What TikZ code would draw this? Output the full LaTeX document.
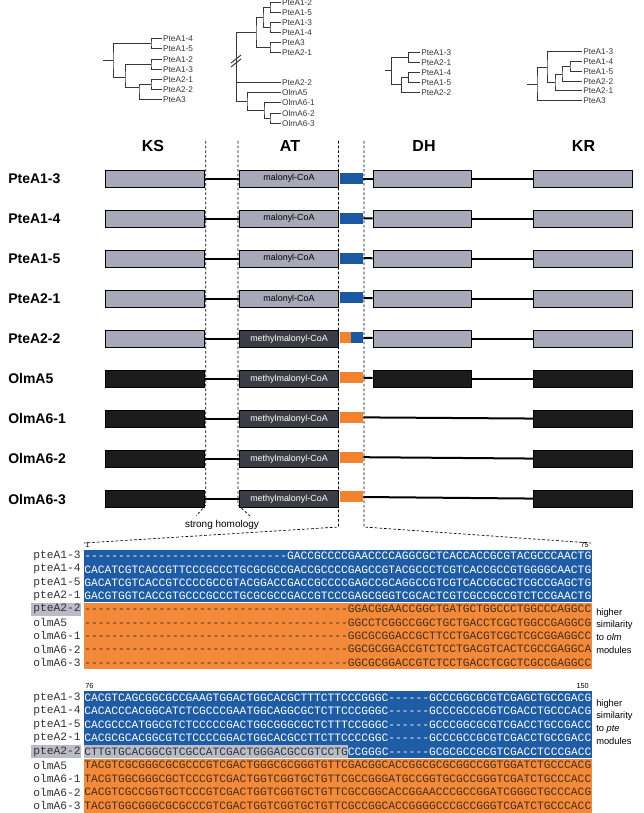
\documentclass[tikz,border=0pt]{standalone}
\usepackage{fontspec}
\setmainfont{Liberation Sans}
\setmonofont{Liberation Mono}
\usetikzlibrary{positioning}
\ExplSyntaxOn
\NewDocumentCommand\gaps{m}{\prg_replicate:nn{#1}{-}}
\ExplSyntaxOff

\definecolor{ptegrey}{RGB}{168,169,184}
\definecolor{olmblack}{RGB}{28,28,28}
\definecolor{atdark}{RGB}{58,62,68}
\definecolor{motblue}{RGB}{26,88,163}
\definecolor{motorange}{RGB}{242,130,44}
\definecolor{alnblue}{RGB}{30,92,165}
\definecolor{alnorange}{RGB}{243,138,58}
\definecolor{hilite}{RGB}{186,187,201}
\definecolor{seqdark}{RGB}{70,45,25}
\definecolor{namegrey}{RGB}{50,50,50}
\definecolor{leafgrey}{RGB}{55,55,55}

\tikzstyle{header} = [inner sep=0pt, font=\fontsize{12}{14}\selectfont\bfseries]
\tikzstyle{rowlabel} = [anchor=west, inner sep=0pt, font=\fontsize{10.5}{12}\selectfont\bfseries]
\tikzstyle{leaf} = [anchor=west, inner sep=1pt, text=leafgrey, font=\fontsize{6.2}{7}\selectfont]
\tikzstyle{branch} = [draw=leafgrey, line width=0.75pt]
\tikzstyle{dombox} = [rectangle, draw=black, line width=0.6pt, minimum width=74pt, minimum height=12.75pt, inner sep=0pt, font=\fontsize{6.7}{8}\selectfont]
\tikzstyle{pte} = [dombox, fill=ptegrey]
\tikzstyle{olm} = [dombox, fill=olmblack]
\tikzstyle{mal} = [dombox, fill=ptegrey]
\tikzstyle{mmal} = [dombox, fill=atdark, text=white]
\tikzstyle{motif} = [rectangle, minimum width=17.25pt, minimum height=8.25pt, inner sep=0pt]
\tikzstyle{link} = [line width=1.5pt]
\tikzstyle{guide} = [line width=0.5pt, dash pattern=on 2pt off 1.5pt]
\tikzstyle{seq} = [anchor=west, inner sep=0pt, font=\ttfamily\fontsize{8.45}{10}\selectfont]
\tikzstyle{seqname} = [seq, text=namegrey]
\tikzstyle{note} = [anchor=west, align=left, inner sep=0pt, font=\fontsize{7}{9.6}\selectfont]
\tikzstyle{posnum} = [inner sep=0pt, font=\fontsize{5.5}{6}\selectfont]

\begin{document}
\begin{tikzpicture}[x=0.75pt,y=-0.75pt]
\useasboundingbox (0,0) rectangle (643,813);

% KS tree
\node (k14) [leaf] at (161.5,39) {PteA1-4};
\node (k15) [leaf] at (161.5,49) {PteA1-5};
\node (k12) [leaf] at (161.5,60) {PteA1-2};
\node (k13) [leaf] at (161.5,70) {PteA1-3};
\node (k21) [leaf] at (161.5,80) {PteA2-1};
\node (k22) [leaf] at (161.5,90) {PteA2-2};
\node (k3) [leaf] at (161.5,100) {PteA3};
\draw [branch] (k14.west) -| (151,44) |- (k15.west);
\draw [branch] (k12.west) -| (151,65) |- (k13.west);
\draw [branch] (k21.west) -| (151,85) |- (k22.west);
\draw [branch] (151,85) -| (139,88) |- (k3.west);
\draw [branch] (151,65) -| (125,78) |- (139,88);
\draw [branch] (151,44) -| (113,61) |- (125,78);
\draw [branch] (113,61) -- (103,61);

% AT tree
\node (a12) [leaf] at (280.5,3) {PteA1-2};
\node (a15) [leaf] at (280.5,13) {PteA1-5};
\node (a13) [leaf] at (280.5,23) {PteA1-3};
\node (a14) [leaf] at (280.5,33) {PteA1-4};
\node (a3) [leaf] at (280.5,43) {PteA3};
\node (a21) [leaf] at (280.5,53) {PteA2-1};
\node (a22) [leaf] at (280.5,83) {PteA2-2};
\node (ao5) [leaf] at (280.5,93) {OlmA5};
\node (ao61) [leaf] at (280.5,103) {OlmA6-1};
\node (ao62) [leaf] at (280.5,114) {OlmA6-2};
\node (ao63) [leaf] at (280.5,124) {OlmA6-3};
\draw [branch] (a12.west) -| (270,8) |- (a15.west);
\draw [branch] (a13.west) -| (270,28) |- (a14.west);
\draw [branch] (270,8) -| (263,18) |- (270,28);
\draw [branch] (a3.west) -| (270,48) |- (a21.west);
\draw [branch] (263,18) -| (256,33) |- (270,48);
\draw [branch] (256,33) -| (236,102) -- (247,102);
\draw [branch] (236,83) -- (a22.west);
\draw [branch] (ao5.west) -| (247,102) |- (264,111);
\draw [branch] (ao61.west) -| (264,111) |- (270,119);
\draw [branch] (ao62.west) -| (270,119) |- (ao63.west);
\draw [branch] (231,63) -- (241,55);
\draw [branch] (231,67) -- (241,59);

% DH tree
\node (d13) [leaf] at (419.7,52.3) {PteA1-3};
\node (d21) [leaf] at (419.7,62.3) {PteA2-1};
\node (d14) [leaf] at (419.7,72.3) {PteA1-4};
\node (d15) [leaf] at (419.7,82.3) {PteA1-5};
\node (d22) [leaf] at (419.7,92.3) {PteA2-2};
\draw [branch] (d13.west) -| (408.3,57.3) |- (d21.west);
\draw [branch] (d14.west) -| (408.3,77.3) |- (d15.west);
\draw [branch] (408.3,77.3) -| (401.7,85) |- (d22.west);
\draw [branch] (408.3,57.3) -| (391.7,71) |- (401.7,85);
\draw [branch] (391.7,71) -- (385,71);

% KR tree
\node (r13) [leaf] at (581.7,52) {PteA1-3};
\node (r14) [leaf] at (581.7,62) {PteA1-4};
\node (r15) [leaf] at (581.7,72) {PteA1-5};
\node (r22) [leaf] at (581.7,82) {PteA2-2};
\node (r21) [leaf] at (581.7,91) {PteA2-1};
\node (r3) [leaf] at (581.7,101) {PteA3};
\draw [branch] (r14.west) -| (570,67) |- (r15.west);
\draw [branch] (570,67) -| (562,74.5) |- (r22.west);
\draw [branch] (562,74.5) -| (555,82.75) |- (r21.west);
\draw [branch] (r13.west) -| (547,67.4) |- (555,82.75);
\draw [branch] (547,67.4) -| (537,84.2) |- (r3.west);
\draw [branch] (537,84.2) -- (527,84.2);

% dashed guides
\draw [guide] (205.8,141) -- (205.8,505) -- (196,516);
\draw [guide] (238,141) -- (238,505) -- (250,516);
\draw [guide] (338.5,141) -- (338.5,527) -- (84,543);
\draw [guide] (364,141) -- (364,527) -- (591,543);
\node (homol) [font=\fontsize{7.5}{9}\selectfont] at (222,525) {strong homology};

% headers
\node (hks) [header] at (153,146) {KS};
\node (hat) [header] at (290,146) {AT};
\node (hdh) [header] at (424,146) {DH};
\node (hkr) [header] at (583.5,146) {KR};

% module rows
\node (ks1) [pte] at (155,178.5) {};
\node (at1) [mal] at (289,178.5) {malonyl-CoA};
\node (mot1) [motif, fill=motblue] at (351.5,178.5) {};
\node (dh1) [pte] at (422.3,178.5) {};
\node (kr1) [pte] at (583.1,178.5) {};
\node (lab1) [rowlabel] at (8,0 |- ks1) {PteA1-3};

\node (ks2) [pte, below=16.7pt of ks1] {};
\node (at2) [mal, below=16.7pt of at1] {malonyl-CoA};
\node (mot2) [motif, fill=motblue, below=21.2pt of mot1] {};
\node (dh2) [pte, below=16.7pt of dh1] {};
\node (kr2) [pte, below=16.7pt of kr1] {};
\node (lab2) [rowlabel] at (8,0 |- ks2) {PteA1-4};

\node (ks3) [pte, below=16.7pt of ks2] {};
\node (at3) [mal, below=16.7pt of at2] {malonyl-CoA};
\node (mot3) [motif, fill=motblue, below=21.2pt of mot2] {};
\node (dh3) [pte, below=16.7pt of dh2] {};
\node (kr3) [pte, below=16.7pt of kr2] {};
\node (lab3) [rowlabel] at (8,0 |- ks3) {PteA1-5};

\node (ks4) [pte, below=16.7pt of ks3] {};
\node (at4) [mal, below=16.7pt of at3] {malonyl-CoA};
\node (mot4) [motif, fill=motblue, below=21.2pt of mot3] {};
\node (dh4) [pte, below=16.7pt of dh3] {};
\node (kr4) [pte, below=16.7pt of kr3] {};
\node (lab4) [rowlabel] at (8,0 |- ks4) {PteA2-1};

\node (ks5) [pte, below=16.7pt of ks4] {};
\node (at5) [mmal, below=16.7pt of at4] {methylmalonyl-CoA};
\node (mot5) [motif, fill=motorange, below=21.2pt of mot4] {};
\node (mot5b) [motif, fill=motblue, minimum width=9pt, anchor=east] at (mot5.east) {};
\node (dh5) [pte, below=16.7pt of dh4] {};
\node (kr5) [pte, below=16.7pt of kr4] {};
\node (lab5) [rowlabel] at (8,0 |- ks5) {PteA2-2};

\node (ks6) [olm, below=16.7pt of ks5] {};
\node (at6) [mmal, below=16.7pt of at5] {methylmalonyl-CoA};
\node (mot6) [motif, fill=motorange, below=21.2pt of mot5] {};
\node (dh6) [olm, below=16.7pt of dh5] {};
\node (kr6) [olm, below=16.7pt of kr5] {};
\node (lab6) [rowlabel] at (8,0 |- ks6) {OlmA5};

\node (ks7) [olm, below=16.7pt of ks6] {};
\node (at7) [mmal, below=16.7pt of at6] {methylmalonyl-CoA};
\node (mot7) [motif, fill=motorange, below=21.2pt of mot6] {};
\node (kr7) [olm, below=16.7pt of kr6] {};
\node (lab7) [rowlabel] at (8,0 |- ks7) {OlmA6-1};

\node (ks8) [olm, below=16.7pt of ks7] {};
\node (at8) [mmal, below=16.7pt of at7] {methylmalonyl-CoA};
\node (mot8) [motif, fill=motorange, below=21.2pt of mot7] {};
\node (kr8) [olm, below=16.7pt of kr7] {};
\node (lab8) [rowlabel] at (8,0 |- ks8) {OlmA6-2};

\node (ks9) [olm, below=16.7pt of ks8] {};
\node (at9) [mmal, below=16.7pt of at8] {methylmalonyl-CoA};
\node (mot9) [motif, fill=motorange, below=21.2pt of mot8] {};
\node (kr9) [olm, below=16.7pt of kr8] {};
\node (lab9) [rowlabel] at (8,0 |- ks9) {OlmA6-3};

\draw [link] (ks1) -- (at1);
\draw [link] (mot1) -- (dh1);
\draw [link] (dh1) -- (kr1);
\draw [link] (ks2) -- (at2);
\draw [link] (mot2) -- (dh2);
\draw [link] (dh2) -- (kr2);
\draw [link] (ks3) -- (at3);
\draw [link] (mot3) -- (dh3);
\draw [link] (dh3) -- (kr3);
\draw [link] (ks4) -- (at4);
\draw [link] (mot4) -- (dh4);
\draw [link] (dh4) -- (kr4);
\draw [link] (ks5) -- (at5);
\draw [link] (mot5b) -- (dh5);
\draw [link] (dh5) -- (kr5);
\draw [link] (ks6) -- (at6);
\draw [link] (mot6) -- (dh6);
\draw [link] (dh6) -- (kr6);
\draw [link] (ks7) -- (at7);
\draw [link] (mot7) -- (kr7);
\draw [link] (ks8) -- (at8);
\draw [link] (mot8) -- (kr8);
\draw [link] (ks9) -- (at9);
\draw [link] (mot9) -- (kr9);

% alignment, positions 1-75
\fill [alnblue] (83.5,549.5) rectangle (591.5,602.3);
\fill [alnorange] (83.5,603) rectangle (591.5,669);
\fill [hilite] (30.5,603) rectangle (80.5,615.5);
\node (p1) [posnum, anchor=south west] at (85,547.5) {1};
\node (p75) [posnum, anchor=south east] at (589,547.5) {75};
\node (na1) [seqname] at (33,556) {pteA1-3};
\node (na2) [seqname] at (33,569.3) {pteA1-4};
\node (na3) [seqname] at (33,582.6) {pteA1-5};
\node (na4) [seqname] at (33,595.9) {pteA2-1};
\node (na5) [seqname] at (33,609.2) {pteA2-2};
\node (na6) [seqname] at (33,622.5) {olmA5};
\node (na7) [seqname] at (33,635.8) {olmA6-1};
\node (na8) [seqname] at (33,649.1) {olmA6-2};
\node (na9) [seqname] at (33,662.4) {olmA6-3};
\node (sa1) [seq, text=white] at (84,556) {\gaps{30}GACCGCCCCGAACCCCAGGCGCTCACCACCGCGTACGCCCAACTG};
\node (sa2) [seq, text=white] at (84,569.3) {CACATCGTCACCGTTCCCGCCCTGCGCGCCGACCGCCCCGAGCCGTACGCCCTCGTCACCGCCGTGGGGCAACTG};
\node (sa3) [seq, text=white] at (84,582.6) {GACATCGTCACCGTCCCCGCCGTACGGACCGACCGCCCCGAGCCGCAGGCCGTCGTCACCGCGCTCGCCGAGCTG};
\node (sa4) [seq, text=white] at (84,595.9) {GACGTGGTCACCGTGCCCGCCCTGCGCGCCGACCGTCCCGAGCGGGTCGCACTCGTCGCCGCCGTCTCCGAACTG};
\node (sa5) [seq, text=seqdark] at (84,609.2) {\gaps{39}GGACGGAACCGGCTGATGCTGGCCCTGGCCCAGGCC};
\node (sa6) [seq, text=seqdark] at (84,622.5) {\gaps{39}GGCCTCGGCCGGCTGCTGACCTCGCTGGCCGAGGCG};
\node (sa7) [seq, text=seqdark] at (84,635.8) {\gaps{39}GGCGCGGACCGCTTCCTGACGTCGCTCGCGGAGGCC};
\node (sa8) [seq, text=seqdark] at (84,649.1) {\gaps{39}GGCGCGGACCGTCTCCTGACGTCACTCGCCGAGGCA};
\node (sa9) [seq, text=seqdark] at (84,662.4) {\gaps{39}GGCGCGGACCGTCTCCTGACCTCGCTCGCCGAGGCC};
\node (simolm) [note] at (596,631) {higher\\similarity\\to \textit{olm}\\modules};

% alignment, positions 76-150
\fill [alnblue] (83.5,690.5) rectangle (591.5,758);
\fill [alnorange] (83.5,758.5) rectangle (591.5,813);
\fill [hilite] (30.5,745) rectangle (80.5,758);
\fill [hilite] (83.5,745) rectangle (347.5,758);
\node (p76) [posnum, anchor=south west] at (85,688.5) {76};
\node (p150) [posnum, anchor=south east] at (589,688.5) {150};
\node (nb1) [seqname] at (33,697.5) {pteA1-3};
\node (nb2) [seqname] at (33,711) {pteA1-4};
\node (nb3) [seqname] at (33,724.5) {pteA1-5};
\node (nb4) [seqname] at (33,738) {pteA2-1};
\node (nb5) [seqname] at (33,751.5) {pteA2-2};
\node (nb6) [seqname] at (33,765) {olmA5};
\node (nb7) [seqname] at (33,778.5) {olmA6-1};
\node (nb8) [seqname] at (33,792) {olmA6-2};
\node (nb9) [seqname] at (33,805.5) {olmA6-3};
\node (sb1) [seq, text=white] at (84,697.5) {CACGTCAGCGGCGCCGAAGTGGACTGGCACGCTTTCTTCCCGGGC\gaps{6}GCCCGGCGCGTCGAGCTGCCGACG};
\node (sb2) [seq, text=white] at (84,711) {CACACCCACGGCATCTCGCCCGAATGGCAGGCGCTCTTCCCGGGC\gaps{6}GCCCGCCGCGTCGACCTGCCCACG};
\node (sb3) [seq, text=white] at (84,724.5) {CACGCCCATGGCGTCTCCCCCGACTGGCGGGCGCTCTTTCCGGGC\gaps{6}GCCCGGCGCGTCGACCTGCCGACC};
\node (sb4) [seq, text=white] at (84,738) {CACGCGCACGGCGTCTCCCCGGACTGGCACGCCTTCTTCCCCGGC\gaps{6}GCCCGCCGCGTCGACCTGCCGACC};
\node (sb5) [seq, text=white] at (84,751.5) {\textcolor{namegrey}{CTTGTGCACGGCGTCGCCATCGACTGGGACGCCGTCCTG}CCGGGC\gaps{6}GCGCGCCGCGTCGACCTCCCGACC};
\node (sb6) [seq, text=seqdark] at (84,765) {TACGTCGCGGGCGCGCCCGTCGACTGGGCGCGGGTGTTCGACGGCACCGGCGCGCGGCCGGTGGATCTGCCCACG};
\node (sb7) [seq, text=seqdark] at (84,778.5) {TACGTGGCGGGCGCTCCCGTCGACTGGTCGGTGCTGTTCGCCGGGATGCCGGTGCGCCGGGTCGATCTGCCCACC};
\node (sb8) [seq, text=seqdark] at (84,792) {CACGTCGCCGGTGCTCCCGTCGACTGGTCGGTGCTGTTCGCCGGCACCGGAACCCGCCGGATCGGGCTGCCCACG};
\node (sb9) [seq, text=seqdark] at (84,805.5) {TACGTGGCGGGCGCGCCCGTCGACTGGTCGGTGCTGTTCGCCGGCACCGGGGCCCGCCGGGTCGATCTGCCCACC};
\node (simpte) [note] at (596,722) {higher\\similarity\\to \textit{pte}\\modules};

\end{tikzpicture}
\end{document}
